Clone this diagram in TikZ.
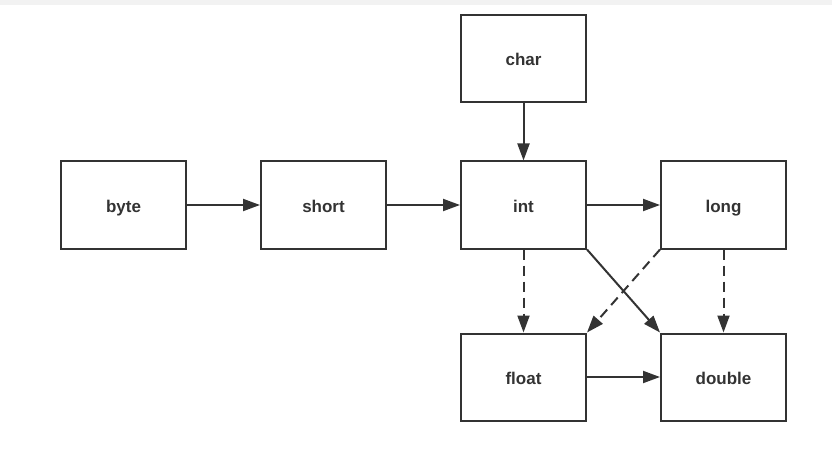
\documentclass[tikz,border=0pt]{standalone}
\usepackage{fontspec}
\setmainfont{Liberation Sans}
\usetikzlibrary{arrows.meta}
\definecolor{linegray}{HTML}{333333}
\definecolor{topgray}{HTML}{F2F2F2}

\begin{document}
\begin{tikzpicture}[
  x=1pt,y=-1pt,
  box/.style={rectangle,draw=linegray,line width=2pt,minimum width=125pt,minimum height=87pt,text height=14pt,text depth=0pt,text=linegray,font=\fontsize{17}{19}\selectfont\bfseries},
  arr/.style={-{Triangle[length=17pt,width=12pt]},line width=2pt,draw=linegray},
  dasharr/.style={arr,dash pattern=on 10pt off 6pt}
]
\useasboundingbox (0,0) rectangle (832,457);
\fill[topgray] (0,0) rectangle (832,5);

\node[box] (byte) at (123.5,205) {byte};
\node[box] (short) at (323.5,205) {short};
\node[box] (int) at (523.5,205) {int};
\node[box] (long) at (723.5,205) {long};
\node[box] (char) at (523.5,58.5) {char};
\node[box] (float) at (523.5,377) {float};
\node[box] (double) at (723.5,377) {double};

\draw[arr] (byte) -- (short);
\draw[arr] (short) -- (int);
\draw[arr] (int) -- (long);
\draw[arr] (char) -- (int);
\draw[arr] (float) -- (double);
\draw[arr] (int.south east) -- (double.north west);
\draw[dasharr] (int) -- (float);
\draw[dasharr] (long) -- (double);
\draw[dasharr] (long.south west) -- (float.north east);
\end{tikzpicture}
\end{document}
